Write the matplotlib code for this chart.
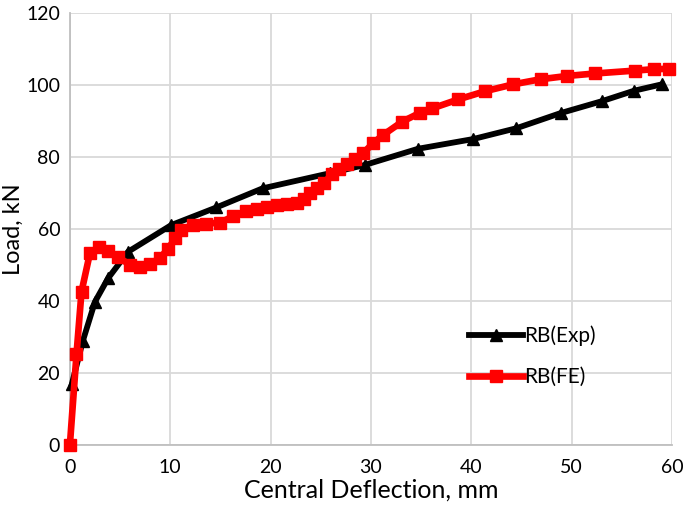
import matplotlib
matplotlib.use('Agg')
import matplotlib.pyplot as plt

plt.rcParams['font.family'] = ['Lato', 'DejaVu Sans']

# RB(Exp) - experimental curve
exp_defl = [0.2, 1.3, 2.5, 3.8, 5.8, 10.1, 14.6, 19.2, 25.9, 29.4, 34.7,
            40.2, 44.5, 48.9, 53.0, 56.2, 59.0]
exp_load = [17.0, 29.0, 39.8, 46.3, 53.7, 61.1, 66.0, 71.3, 75.5, 77.8, 82.3,
            85.0, 88.0, 92.2, 95.5, 98.4, 100.2]

# RB(FE) - finite element curve
fe_defl = [0.0, 0.66, 1.16, 2.0, 2.9, 3.8, 4.8, 6.0, 7.0, 8.0, 9.0, 9.8,
           10.5, 11.1, 12.3, 13.6, 15.0, 16.3, 17.6, 18.6, 19.6, 20.6, 21.6,
           22.6, 23.3, 23.9, 24.6, 25.3, 26.1, 26.8, 27.6, 28.4, 29.2, 30.2,
           31.2, 33.1, 34.9, 36.1, 38.7, 41.4, 44.2, 46.9, 49.5, 52.3, 56.3,
           58.2, 59.7]
fe_load = [0.0, 25.2, 42.6, 53.3, 55.0, 54.0, 52.3, 50.0, 49.5, 50.3, 52.0,
           54.6, 57.4, 59.7, 61.0, 61.5, 61.8, 63.6, 65.0, 65.7, 66.2, 66.6,
           66.9, 67.2, 68.3, 70.0, 71.3, 72.7, 75.2, 76.8, 78.2, 79.5, 81.0,
           83.8, 86.1, 89.8, 92.3, 93.5, 96.0, 98.3, 100.2, 101.6, 102.5,
           103.2, 104.0, 104.4, 104.5]

x_ticks = [0, 10, 20, 30, 40, 50, 60]
y_ticks = [0, 20, 40, 60, 80, 100, 120]

fig = plt.figure(figsize=(6.85, 5.2), dpi=100)
ax = fig.add_axes([0.102, 0.144, 0.879, 0.831])

ax.plot(exp_defl, exp_load, color='black', lw=4.2, marker='^', ms=8.5,
        label='RB(Exp)', zorder=3, clip_on=False)
ax.plot(fe_defl, fe_load, color='#ff0000', lw=4.8, marker='s', ms=8.5,
        label='RB(FE)', zorder=4, clip_on=False)

ax.set_xlim(0, 60)
ax.set_ylim(0, 120)
ax.set_xticks(x_ticks)
ax.set_yticks(y_ticks)
ax.grid(True, color='#d9d9d9', lw=1.3, zorder=0)
ax.set_axisbelow(True)
for s in ['top', 'right']:
    ax.spines[s].set_visible(False)
for s in ['left', 'bottom']:
    ax.spines[s].set_color('#bfbfbf')
    ax.spines[s].set_linewidth(1.3)
ax.tick_params(length=0, labelsize=14, colors='black')
ax.tick_params(axis='y', pad=7)
ax.tick_params(axis='x', pad=10)

ax.set_xlabel('Central Deflection, mm', fontsize=18, labelpad=2)
ax.set_ylabel('Load, kN', fontsize=17, labelpad=2)

ax.legend(frameon=False, loc='center left', bbox_to_anchor=(0.632, 0.205),
          fontsize=15, handlelength=2.6, handletextpad=0.05, labelspacing=1.0)

fig.savefig('out.png', dpi=100)
